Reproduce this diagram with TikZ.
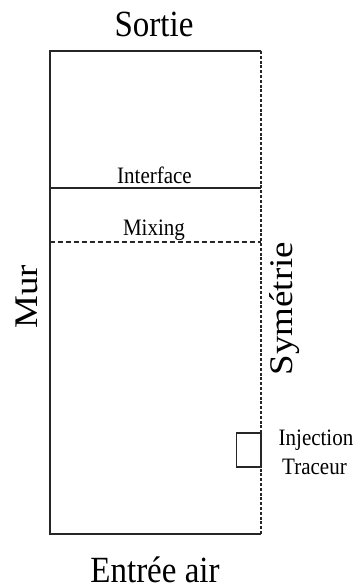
\documentclass[tikz,border=0pt]{standalone}
\usepackage{fontspec}
\setmainfont{Liberation Serif}
\begin{document}
\begin{tikzpicture}[x=1pt,y=1pt,
  wall/.style={line width=1.3pt,draw=black!85},
  symline/.style={line width=1.1pt,draw=black!85,dash pattern=on 3pt off 1.8pt},
  mixline/.style={line width=1.1pt,draw=black!85,dash pattern=on 5pt off 3pt},
  biglabel/.style={inner sep=0pt,anchor=base,font=\fontsize{33}{38}\selectfont},
  smalllabel/.style={inner sep=0pt,anchor=base,font=\fontsize{21}{29}\selectfont}]
  \useasboundingbox (0,0) rectangle (354,-587);
  % domain corners
  \coordinate (tl) at (50,-51);
  \coordinate (tr) at (261,-51);
  \coordinate (bl) at (50,-534);
  \coordinate (br) at (261,-534);
  % interface and mixing levels
  \coordinate (il) at (50,-188);
  \coordinate (ir) at (261,-188);
  \coordinate (ml) at (50,-242);
  \coordinate (mr) at (261,-242);
  % wall, inlet and outlet boundaries
  \draw[wall] (br) -- (bl) -- (tl) -- (tr);
  % symmetry boundary
  \draw[symline] (tr) -- (br);
  % interface and mixing lines
  \draw[wall] (il) -- (ir);
  \draw[mixline] (ml) -- (mr);
  % tracer injection box
  \draw[wall,line width=1.1pt] (236.5,-433) rectangle (261,-467);
  % labels
  \node[biglabel] (sortie) at (154,-36.5) {\scalebox{1}[1.12]{Sortie}};
  \node[biglabel] (entree) at (155,-582) {\raisebox{0pt}[\height][0pt]{\scalebox{1}[1.12]{Entrée air}}};
  \node[biglabel,rotate=90] (mur) at (37,-297) {\scalebox{1.12}[1]{Mur}};
  \node[biglabel,rotate=90] (sym) at (292.5,-308.5) {\scalebox{1.12}[1]{Symétrie}};
  \node[smalllabel] (interface) at (154.5,-183) {\scalebox{1}[1.12]{Interface}};
  \node[smalllabel] (mixing) at (154,-235) {\scalebox{1}[1.12]{Mixing}};
  \node[smalllabel] (inj) at (316,-445) {\scalebox{1}[1.12]{Injection}};
  \node[smalllabel] (trac) at (314.5,-474) {\scalebox{1}[1.12]{Traceur}};
\end{tikzpicture}
\end{document}
